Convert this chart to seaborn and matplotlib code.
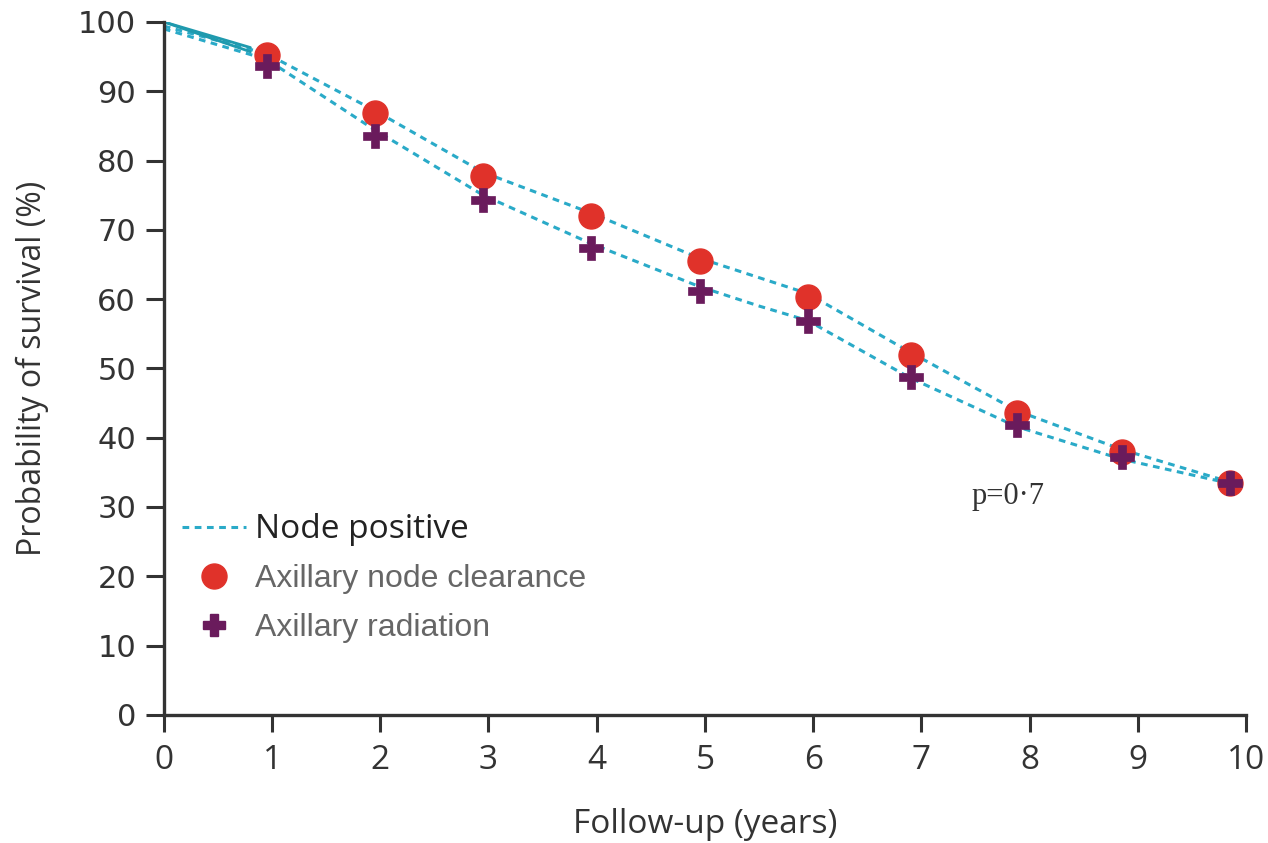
import matplotlib
matplotlib.use("Agg")
import matplotlib.pyplot as plt
import seaborn as sns
import pandas as pd
from matplotlib.lines import Line2D

# ---- data ----
marker_years = [0.95, 1.95, 2.95, 3.95, 4.95, 5.95, 6.9, 7.88, 8.85, 9.85]
clearance_pts = [95.2, 86.9, 77.7, 72.0, 65.5, 60.3, 52.0, 43.6, 38.0, 33.5]
radiation_pts = [93.6, 83.5, 74.3, 67.4, 61.2, 56.8, 48.7, 41.8, 37.2, 33.5]

curve_years_up = [0.0, 0.95, 1.95, 2.95, 3.95, 4.95, 5.95, 6.9, 7.88, 8.85, 9.85]
curve_clearance = [99.4, 95.4, 87.2, 78.3, 72.4, 65.9, 60.8, 52.3, 43.9, 38.3, 33.6]
curve_years_low = [0.0, 0.95, 1.95, 2.95, 3.95, 4.95, 5.5, 5.95, 6.9, 7.88, 8.85, 9.85]
curve_radiation = [99.0, 94.6, 84.4, 75.0, 68.0, 61.8, 59.0, 56.9, 48.6, 41.6, 36.9, 33.4]

early_years = [0.0, 0.8]
early_surv_a = [100.0, 96.3]
early_surv_b = [100.0, 95.7]

x_ticks = list(range(0, 11))
y_ticks = list(range(0, 101, 10))
p_text = "p=0·7"

# ---- style ----
sns.set_theme(style="ticks")
plt.rcParams["font.family"] = ["Open Sans", "DejaVu Sans"]

dash_col = "#2aaac8"
solid_col = "#1f9aae"
red = "#e0322a"
purple = "#6a1b5c"
axis_col = "#333333"

fig = plt.figure(figsize=(12.68, 8.43), dpi=100)
ax = fig.add_axes([0.1292, 0.152, 0.8535, 0.822])

df_up = pd.DataFrame({"t": curve_years_up, "s": curve_clearance})
df_low = pd.DataFrame({"t": curve_years_low, "s": curve_radiation})
sns.lineplot(data=df_up, x="t", y="s", ax=ax, color=dash_col, lw=2.2,
             linestyle=(0, (2.2, 1.8)), sort=False, estimator=None)
sns.lineplot(data=df_low, x="t", y="s", ax=ax, color=dash_col, lw=2.2,
             linestyle=(0, (2.2, 1.8)), sort=False, estimator=None)
for ys in (early_surv_a, early_surv_b):
    sns.lineplot(x=early_years, y=ys, ax=ax, color=solid_col, lw=2.0,
                 estimator=None)

ax.plot(marker_years, clearance_pts, "o", ms=18, color=red, mec=red, zorder=5)
ax.plot(marker_years, radiation_pts, "P", ms=17, color=purple, mec=purple,
        mew=0.5, zorder=6)

ax.set_xlim(0, 10)
ax.set_ylim(0, 100)
ax.set_xticks(x_ticks)
ax.set_yticks(y_ticks)
for lab in ax.get_xticklabels():
    lab.set_fontsize(24)
    lab.set_color(axis_col)
for lab in ax.get_yticklabels():
    lab.set_fontsize(22)
    lab.set_color(axis_col)
    lab.set_family(["DejaVu Sans"])
ax.tick_params(axis="x", length=12, width=2.2, color=axis_col, pad=9)
ax.tick_params(axis="y", length=13, width=2.2, color=axis_col, pad=7)
sns.despine(ax=ax)
for sp in ("left", "bottom"):
    ax.spines[sp].set_linewidth(2.4)
    ax.spines[sp].set_color(axis_col)

ax.set_xlabel("Follow-up (years)", fontsize=24, color=axis_col, labelpad=22)
ax.set_ylabel("Probability of survival (%)", fontsize=23, color=axis_col,
              labelpad=21)

ax.text(7.8, 31.5, p_text, fontsize=22, color="#333333", ha="center",
        va="center", family=["Liberation Serif", "DejaVu Serif"])

handles = [
    Line2D([], [], color=dash_col, lw=2.2, linestyle=(0, (2.2, 1.8))),
    Line2D([], [], marker="o", ls="none", ms=18, color=red),
    Line2D([], [], marker="P", ls="none", ms=16, color=purple),
]
labels = ["Node positive", "Axillary node clearance", "Axillary radiation"]
leg = ax.legend(handles, labels, loc="upper left",
                bbox_to_anchor=(-0.010, 0.333), frameon=False,
                handlelength=2.0, handletextpad=0.3, labelspacing=0.58,
                fontsize=23)
txts = leg.get_texts()
txts[0].set_fontsize(24)
txts[0].set_color("#222222")
for t in txts[1:]:
    t.set_color("#666666")
    t.set_family(["Liberation Sans", "DejaVu Sans"])

fig.savefig("out.png", dpi=100, facecolor="white")
